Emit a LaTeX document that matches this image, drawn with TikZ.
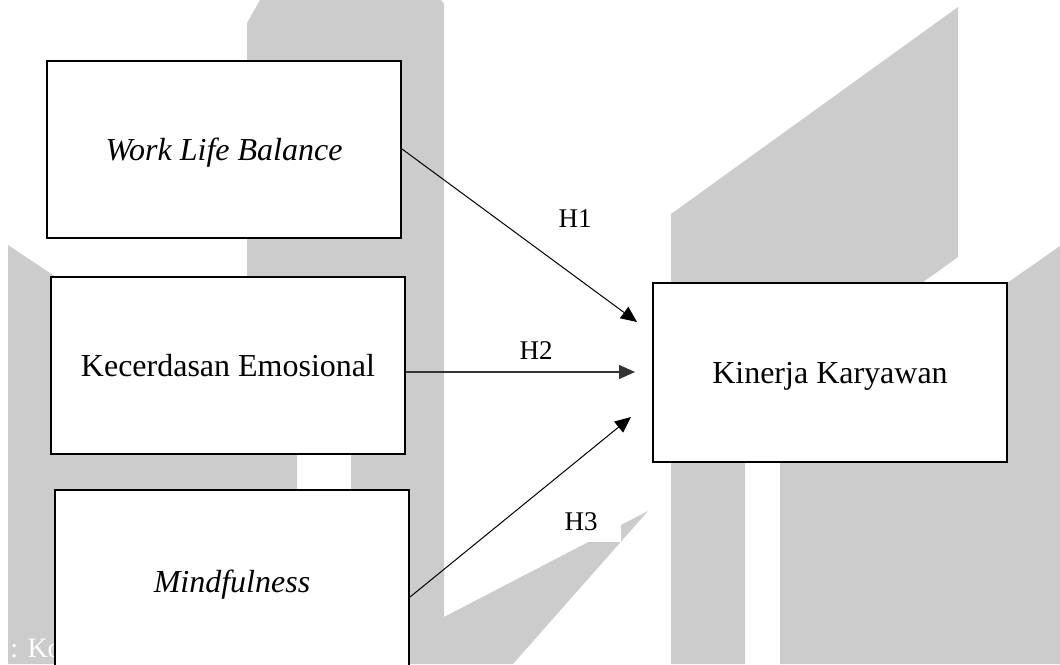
\documentclass[tikz,border=0pt]{standalone}
\usepackage{fontspec}
\setmainfont{Liberation Serif}
\usetikzlibrary{arrows.meta,calc}
\definecolor{wmgray}{RGB}{204,204,204}

\begin{document}
\begin{tikzpicture}[x=0.5pt,y=-0.5pt,
  varbox/.style={draw=black,line width=1pt,fill=white,minimum width=177pt,
    minimum height=88.5pt,inner sep=0pt,text depth=0pt,
    font=\fontsize{16}{19}\selectfont},
  hlabel/.style={fill=white,minimum width=40pt,minimum height=20pt,inner sep=0pt,
    font=\fontsize{13.5}{16}\selectfont},
  link/.style={line width=0.5pt,-{Triangle[length=8pt,width=7pt]}},
  wmshape/.style={fill=wmgray,draw=none}]

\useasboundingbox (0,0) rectangle (1060,664);
\clip (0,0) rectangle (1060,664);

% background emblem shapes
\path[wmshape] (8,245) -- (297,438) -- (297,664) -- (8,664) -- cycle;
\path[wmshape] (247,23) -- (260,0) -- (351,0) -- (351,445) -- (247,445) -- cycle;
\path[wmshape] (351,0) -- (441,0) -- (444,4) -- (444,617) -- (648,511)
  -- (513,664) -- (351,664) -- cycle;
\path[wmshape] (671,214) -- (958,7) -- (958,257) -- (745,410) -- (745,664)
  -- (671,664) -- cycle;
\path[wmshape] (1060,246) -- (780,442) -- (780,664) -- (1060,664) -- cycle;
\node[anchor=base west,text=white,inner sep=0pt,font=\fontsize{14}{16}\selectfont]
  (src) at (10,657) {: Ko};

% variables
\node[varbox] (wlb) at (224,149) {\itshape Work Life Balance};
\node[varbox] (ke) at (228,365) {Kecerdasan Emosional};
\node[varbox,minimum height=91pt] (mind) at (232,581) {\itshape Mindfulness};
\node[varbox,minimum height=89.5pt] (kk) at (830,372.5) {Kinerja Karyawan};

% hypotheses
\coordinate (t1) at (637,322);
\coordinate (t2) at (635,372);
\coordinate (t3) at (631,417);
\draw[link] (wlb.east) -- (t1);
\draw[link,line width=0.65pt,draw=black!80,fill=black] (ke.east |- t2) -- (t2);
\draw[link] ($(mind.east)+(0,16)$) -- (t3);

\node[hlabel] (h1) at (575,219) {H1};
\node[hlabel] (h2) at (536,350.8) {H2};
\node[hlabel] (h3) at (581,522) {H3};
\end{tikzpicture}
\end{document}
